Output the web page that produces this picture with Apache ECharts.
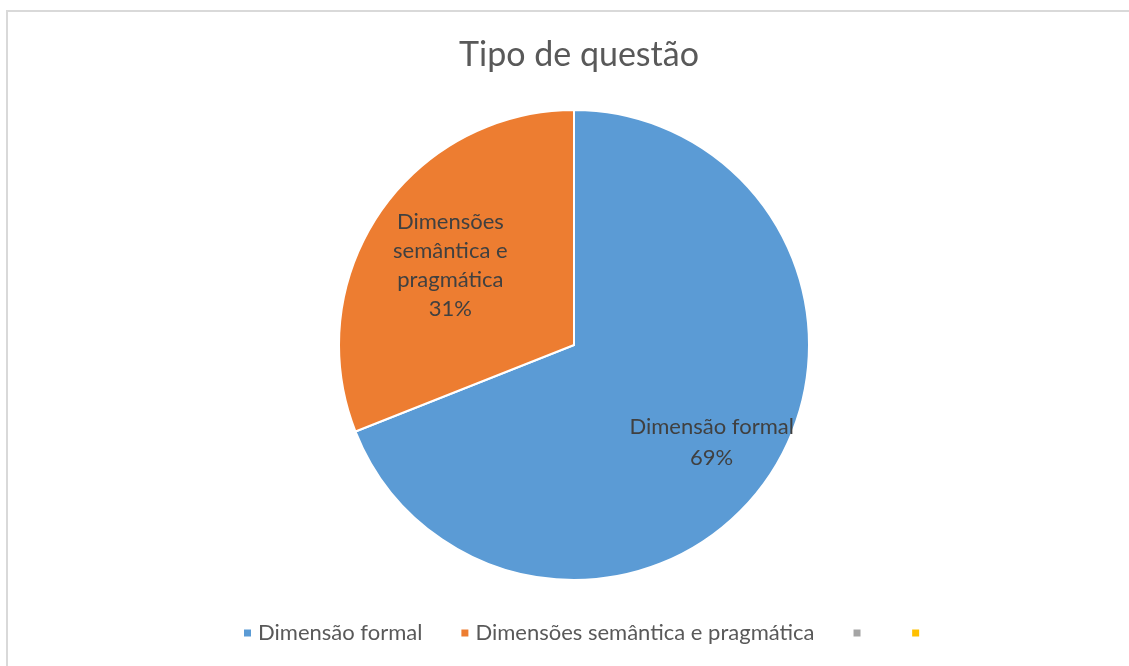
<!DOCTYPE html>
<html>
<head>
<meta charset="utf-8">
<script src="https://cdn.jsdelivr.net/npm/echarts@6/dist/echarts.min.js"></script>
<style>
html,body{margin:0;padding:0;background:#fff;overflow:hidden;}
#chart{position:absolute;left:0;top:0;width:1129px;height:666px;}
</style>
</head>
<body>
<div id="chart"></div>
<script>
const titleText = 'Tipo de questão';
const categories = ['Dimensão formal', 'Dimensões semântica e pragmática', ' ', '  '];
const labelNames = ['Dimensão formal', 'Dimensões\nsemântica e\npragmática', '', ''];
const values = [69, 31, 0, 0];
const colors = ['#5B9BD5', '#ED7D31', '#A5A5A5', '#FFC000'];

const FONT = 'Lato, "Open Sans", sans-serif';
const labelShift = [[38, 30], [-24, -12], [0, 0], [0, 0]];

const chart = echarts.init(document.getElementById('chart'), null, {renderer: 'canvas'});
chart.setOption({
  backgroundColor: '#ffffff',
  animation: false,
  graphic: [
    {type: 'line', shape: {x1: 6, y1: 11, x2: 1129, y2: 11}, style: {stroke: '#d9d9d9', lineWidth: 2}, silent: true},
    {type: 'line', shape: {x1: 7, y1: 10, x2: 7, y2: 666}, style: {stroke: '#d9d9d9', lineWidth: 2}, silent: true}
  ],
  title: {
    text: titleText,
    left: 574,
    textAlign: 'center',
    top: 33,
    textStyle: {fontFamily: FONT, fontSize: 34, fontWeight: 'normal', color: '#595959'}
  },
  legend: {
    bottom: 17,
    left: 237,
    width: 1000,
    icon: 'rect',
    itemWidth: 9,
    itemHeight: 9,
    itemGap: 37,
    textStyle: {fontFamily: FONT, fontSize: 22, color: '#595959', padding: [0, 0, 0, 1]},
    data: categories.map((c, i) => ({name: c, itemStyle: {color: colors[i]}}))
  },
  series: [{
    type: 'pie',
    center: [574, 345],
    radius: [0, 235],
    startAngle: 90,
    clockwise: true,
    avoidLabelOverlap: false,
    itemStyle: {borderColor: '#ffffff', borderWidth: 2},
    label: {
      show: true,
      position: 'inside',
      fontFamily: FONT,
      fontSize: 22,
      lineHeight: 30,
      color: '#404040',
      align: 'center'
    },
    labelLine: {show: false},
    emphasis: {disabled: true},
    labelLayout: function (p) {
      return {dx: labelShift[p.dataIndex][0], dy: labelShift[p.dataIndex][1]};
    },
    data: categories.map((c, i) => ({
      name: c,
      value: values[i],
      itemStyle: {color: colors[i]},
      label: {
        show: values[i] > 0,
        formatter: labelNames[i] + '\n' + values[i] + '%',
        lineHeight: i === 1 ? 29 : 31
      }
    }))
  }]
});
</script>
</body>
</html>
